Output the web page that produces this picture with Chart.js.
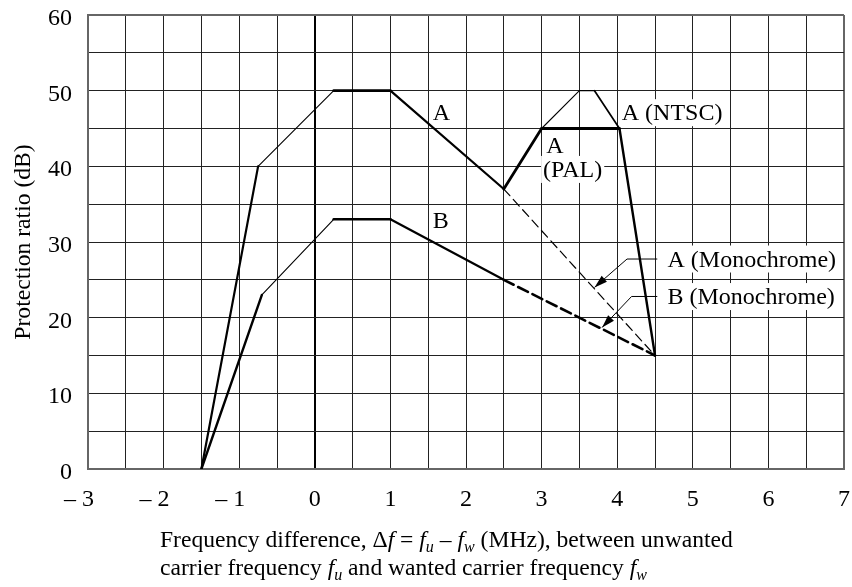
<!DOCTYPE html>
<html>
<head>
<meta charset="utf-8">
<script src="https://cdn.jsdelivr.net/npm/chart.js@4.4.1/dist/chart.umd.min.js"></script>
<style>
  html, body { margin: 0; padding: 0; background: #fff; }
  #wrap { width: 852px; height: 587px; }
</style>
</head>
<body>
<div id="wrap"><canvas id="chart" width="852" height="587"></canvas></div>
<script>
// values (x in MHz, y in dB)
const curveAFreq = [-1.5, -0.75, 0.25, 1, 2.5, 3, 4.03, 4.5];
const curveARatio = [0, 40, 50, 50, 37, 45, 45, 15];
const ntscFreq = [3, 3.5, 3.7, 4.03];
const ntscRatio = [45, 50, 50, 45];
const monoAFreq = [2.5, 4.5];
const monoARatio = [37, 15];
const curveBFreq = [-1.5, -0.7, 0.25, 1, 2.5];
const curveBRatio = [0, 23, 33, 33, 25];
const monoBFreq = [2.5, 4.5];
const monoBRatio = [25, 15];

const xTickValues = [-3, -2, -1, 0, 1, 2, 3, 4, 5, 6, 7];
const xTickLabels = ['– 3', '– 2', '– 1', '0', '1', '2', '3', '4', '5', '6', '7'];
const yTickValues = [0, 10, 20, 30, 40, 50, 60];

const SERIF = '"Liberation Serif", "Times New Roman", serif';
const FONT = '24px ' + SERIF;
const TITLE_FONT = '23.6px ' + SERIF;

function pts(xs, ys) {
    return xs.map((x, i) => ({x: x, y: ys[i]}));
}

// line widths per segment (thin / thick parts of the curves)
const widthsA = [2.2, 1.1, 2.6, 2.2, 2.8, 3, 2.4];
const widthsNtsc = [1.1, 1.1, 1.7];
const widthsB = [2.4, 1.1, 2.6, 2.2];

function lineSet(label, data, widths, dash) {
    return {
        label: label,
        data: data,
        showLine: true,
        pointRadius: 0,
        borderColor: '#000',
        borderWidth: widths[0],
        borderDash: dash || [],
        borderCapStyle: 'round',
        borderJoinStyle: 'round',
        segment: {
            borderWidth: ctx => widths[ctx.p0DataIndex] || widths[0],
        },
    };
}

// text labels placed in data coordinates
const notes = [
    {text: 'A', x: 1.56, y: 46.1},
    {text: 'A (NTSC)', x: 4.06, y: 46.1, bg: true},
    {text: 'A', x: 3.06, y: 41.8},
    {text: '(PAL)', x: 3.02, y: 38.6, bg: true},
    {text: 'B', x: 1.56, y: 31.85},
    {text: 'A (Monochrome)', x: 4.665, y: 26.76, bg: true},
    {text: 'B (Monochrome)', x: 4.665, y: 21.8, bg: true},
];
const leaders = [
    {from: [4.53, 27.75], knee: [4.13, 27.75], tip: [3.7, 24.0]},
    {from: [4.53, 22.8], knee: [4.19, 22.8], tip: [3.8, 18.7]},
];

const decorations = {
    id: 'decorations',
    afterDatasetsDraw(chart) {
        const c = chart.ctx;
        const xs = chart.scales.x;
        const ys = chart.scales.y;
        const area = chart.chartArea;
        c.save();

        // leader lines with arrow heads
        c.strokeStyle = '#000';
        c.fillStyle = '#000';
        c.lineWidth = 1;
        leaders.forEach(function(l) {
            const fx = xs.getPixelForValue(l.from[0]), fy = ys.getPixelForValue(l.from[1]);
            const kx = xs.getPixelForValue(l.knee[0]), ky = ys.getPixelForValue(l.knee[1]);
            const tx = xs.getPixelForValue(l.tip[0]), ty = ys.getPixelForValue(l.tip[1]);
            c.beginPath();
            c.moveTo(fx, fy);
            c.lineTo(kx, ky);
            c.lineTo(tx, ty);
            c.stroke();
            const ang = Math.atan2(ty - ky, tx - kx);
            const len = 13, half = 4;
            const bx = tx - len * Math.cos(ang), by = ty - len * Math.sin(ang);
            c.beginPath();
            c.moveTo(tx, ty);
            c.lineTo(bx + half * Math.sin(ang), by - half * Math.cos(ang));
            c.lineTo(bx - half * Math.sin(ang), by + half * Math.cos(ang));
            c.closePath();
            c.fill();
        });

        // curve labels
        c.font = FONT;
        c.textBaseline = 'alphabetic';
        c.textAlign = 'left';
        notes.forEach(function(n) {
            const px = xs.getPixelForValue(n.x);
            const py = ys.getPixelForValue(n.y);
            const w = c.measureText(n.text).width;
            if (n.bg) {
                c.fillStyle = '#fff';
                c.fillRect(px - 2, py - 21, w + 4, 27);
            }
            c.fillStyle = '#000';
            c.fillText(n.text, px, py);
        });

        // y tick labels
        c.textAlign = 'right';
        yTickValues.forEach(function(v) {
            c.fillText(String(v), area.left - 16, ys.getPixelForValue(v) + 10);
        });

        // x tick labels: digit centred on the tick, dash to its left
        c.textAlign = 'center';
        const base = area.bottom + 37;
        xTickValues.forEach(function(v, i) {
            const px = xs.getPixelForValue(v);
            const lab = xTickLabels[i];
            const digit = lab.slice(-1);
            c.fillText(digit, px, base);
            if (lab.length > 1) {
                const dw = c.measureText(digit).width;
                c.textAlign = 'right';
                c.fillText(lab.slice(0, -1), px - dw / 2, base);
                c.textAlign = 'center';
            }
        });

        // y axis title
        c.save();
        c.translate(29.5, (area.top + area.bottom) / 2);
        c.rotate(-Math.PI / 2);
        c.textAlign = 'center';
        c.font = TITLE_FONT;
        c.fillText('Protection ratio (dB)', 0, 0);
        c.restore();

        // x axis title, two lines with italic f and subscripts
        const line1 = [
            ['Frequency difference, ', 'n'], ['Δ', 'n'], ['f', 'i'], [' = ', 'n'],
            ['f', 'i'], ['u', 's'], [' – ', 'n'], ['f', 'i'], ['w', 's'],
            [' (MHz), between unwanted', 'n'],
        ];
        const line2 = [
            ['carrier frequency ', 'n'], ['f', 'i'], ['u', 's'],
            [' and wanted carrier frequency ', 'n'], ['f', 'i'], ['w', 's'],
        ];
        function drawRuns(runs, x, y) {
            c.textAlign = 'left';
            runs.forEach(function(r) {
                let dy = 0;
                if (r[1] === 'n') c.font = TITLE_FONT;
                else if (r[1] === 'i') c.font = 'italic 23.6px ' + SERIF;
                else { c.font = 'italic 16px ' + SERIF; dy = 5; }
                c.fillText(r[0], x, y + dy);
                x += c.measureText(r[0]).width;
            });
        }
        drawRuns(line1, 160, area.bottom + 78);
        drawRuns(line2, 160, area.bottom + 106);
        c.restore();
    }
};

function gridColor(edgeA, edgeB) {
    return function(ctx) {
        const v = ctx.tick && ctx.tick.value;
        if (v === edgeA || v === edgeB) return '#666';
        return '#222';
    };
}

new Chart(document.getElementById('chart'), {
    type: 'scatter',
    data: {
        datasets: [
            lineSet('A', pts(curveAFreq, curveARatio), widthsA),
            lineSet('A (NTSC)', pts(ntscFreq, ntscRatio), widthsNtsc),
            lineSet('A (Monochrome)', pts(monoAFreq, monoARatio), [1.2], [9, 5]),
            lineSet('B', pts(curveBFreq, curveBRatio), widthsB),
            lineSet('B (Monochrome)', pts(monoBFreq, monoBRatio), [2.6], [11, 5]),
        ]
    },
    options: {
        responsive: false,
        animation: false,
        devicePixelRatio: 1,
        layout: {padding: {top: 15, right: 8, left: 0, bottom: 0}},
        plugins: {
            legend: {display: false},
            tooltip: {enabled: false},
        },
        scales: {
            x: {
                type: 'linear',
                min: -3,
                max: 7,
                afterFit(scale) { scale.height = 118; },
                ticks: {stepSize: 0.5, display: false},
                grid: {
                    drawTicks: false,
                    color: function(ctx) {
                        const v = ctx.tick && ctx.tick.value;
                        if (v === 0) return '#000';
                        if (v === -3 || v === 7) return '#666';
                        return '#222';
                    },
                    lineWidth: function(ctx) {
                        const v = ctx.tick && ctx.tick.value;
                        if (v === 0 || v === -3 || v === 7) return 2;
                        return 1;
                    },
                },
                border: {display: true, color: '#666', width: 2},
            },
            y: {
                type: 'linear',
                min: 0,
                max: 60,
                afterFit(scale) { scale.width = 88; },
                ticks: {stepSize: 5, display: false},
                grid: {
                    drawTicks: false,
                    color: gridColor(0, 60),
                    lineWidth: function(ctx) {
                        const v = ctx.tick && ctx.tick.value;
                        return (v === 0 || v === 60) ? 2 : 1;
                    },
                },
                border: {display: true, color: '#666', width: 2},
            }
        }
    },
    plugins: [decorations]
});
</script>
</body>
</html>
